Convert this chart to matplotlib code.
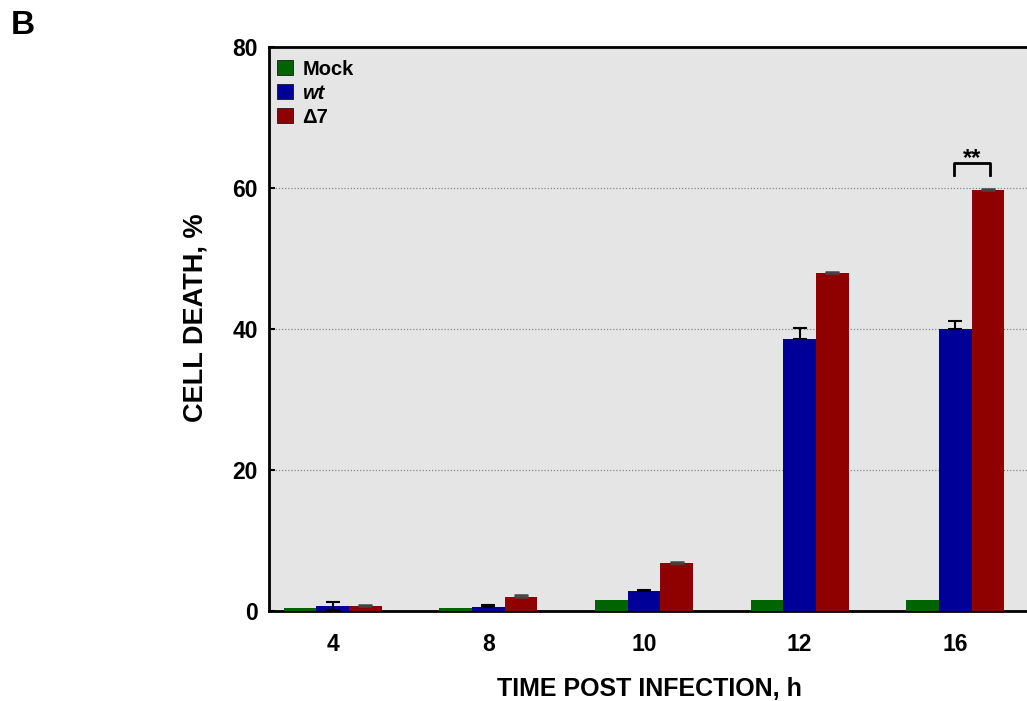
import matplotlib
matplotlib.use("Agg")
import matplotlib.pyplot as plt
import numpy as np
from matplotlib.patches import Patch

plt.rcParams['font.family'] = ['Liberation Sans', 'DejaVu Sans']

timepoints = ["4", "8", "10", "12", "16"]
mock = [0.4, 0.4, 1.6, 1.6, 1.6]
wt = [0.7, 0.6, 2.8, 38.6, 40.0]
d7 = [0.7, 2.0, 6.8, 48.0, 59.7]
wt_err_up = [0.6, 0.3, 0.2, 1.5, 1.1]
wt_err_lo = [0.6, 0.0, 0.0, 0.0, 0.0]
d7_err_up = [0.2, 0.2, 0.2, 0.1, 0.1]

c_mock = '#006400'
c_wt = '#000099'
c_d7 = '#8f0000'

fig = plt.figure(figsize=(10.27, 7.01), dpi=100)
ax = fig.add_axes([269/1027, 90/701, (1030-269)/1027, (611-47)/701])
ax.set_facecolor('#e5e5e5')

x = np.arange(len(timepoints))
w = 0.21
ax.bar(x - w, mock, w, color=c_mock, zorder=3)
ax.bar(x, wt, w, color=c_wt, zorder=3)
ax.bar(x + w, d7, w, color=c_d7, zorder=3)
ax.errorbar(x, wt, yerr=[wt_err_lo, wt_err_up], fmt='none', ecolor='black',
            elinewidth=1.5, capsize=5, capthick=1.5, zorder=4)
ax.errorbar(x + w, d7, yerr=[[0]*5, d7_err_up], fmt='none', ecolor='#444444',
            elinewidth=1.2, capsize=5, capthick=1.8, zorder=4)

# significance bracket
bx0, bx1 = x[4] - 0.01, x[4] + 0.22
ax.plot([bx0, bx0, bx1, bx1], [61.8, 63.6, 63.6, 61.8], color='black', lw=2, zorder=5)
ax.text((bx0 + bx1) / 2, 62.6, '**', ha='center', va='bottom', fontsize=17, fontweight='bold')

ax.set_xlim(-0.41, 4.48)
ax.set_ylim(0, 80)
ax.set_yticks([0, 20, 40, 60, 80])
ax.set_xticks(x)
ax.set_xticklabels(timepoints)
for t in ax.get_xticklabels() + ax.get_yticklabels():
    t.set_fontweight('bold')
    t.set_fontsize(16.5)
ax.tick_params(axis='y', direction='in', length=4, width=1.5, pad=8)
ax.tick_params(axis='x', length=0, pad=16)
for y in [20, 40, 60]:
    ax.axhline(y, color='#888888', lw=0.9, ls=(0, (1, 1.5)), zorder=1)

for s in ['left', 'bottom', 'top', 'right']:
    ax.spines[s].set_linewidth(2)
    ax.spines[s].set_color('black')

ax.set_ylabel('CELL DEATH, %', fontsize=19.5, fontweight='bold')
ax.yaxis.set_label_coords(-0.079, 0.52)
ax.set_xlabel('TIME POST INFECTION, h', fontsize=18, fontweight='bold', labelpad=15)

handles = [Patch(facecolor=c_mock, edgecolor='black', lw=0.5),
           Patch(facecolor=c_wt, edgecolor='black', lw=0.5),
           Patch(facecolor=c_d7, edgecolor='black', lw=0.5)]
leg = ax.legend(handles, ['Mock', 'wt', 'Δ7'], loc='upper left', frameon=False,
                handlelength=0.8, handleheight=0.8, handletextpad=0.45,
                labelspacing=0.25, borderaxespad=0.0, fontsize=14.5,
                bbox_to_anchor=(0.0, 0.992))
texts = leg.get_texts()
for t in texts:
    t.set_fontweight('bold')
texts[1].set_fontstyle('italic')

fig.text(23/1027, 1 - 25/701, 'B', fontsize=24, fontweight='bold', ha='center', va='center')

fig.savefig('out.png', dpi=100)
